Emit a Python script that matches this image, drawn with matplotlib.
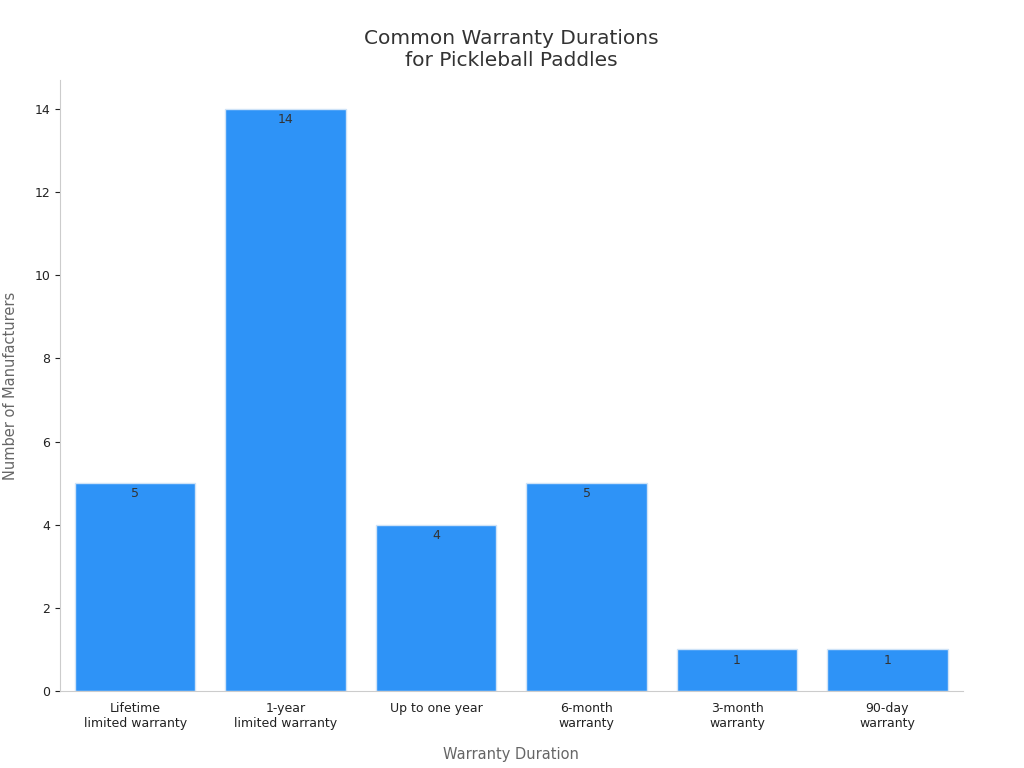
import matplotlib
matplotlib.use("Agg")
from matplotlib import pyplot as plt

# data
categories = ["Lifetime\nlimited warranty", "1-year\nlimited warranty", "Up to one year",
              "6-month\nwarranty", "3-month\nwarranty", "90-day\nwarranty"]
counts = [5, 14, 4, 5, 1, 1]

plt.rcParams['font.family'] = ['DejaVu Sans']

fig = plt.figure(figsize=(10.24, 7.68), dpi=100)
ax = fig.add_axes([0.0586, 0.1003, 0.8815, 0.7955])

x = range(len(categories))
bars = ax.bar(x, counts, width=0.8, color="#2E93F7", edgecolor="#cfe3f7", linewidth=1)
for b, v in zip(bars, counts):
    ax.text(b.get_x() + b.get_width() / 2, v - 0.1, str(v), ha="center", va="top",
            fontsize=9, color="#333333")

ax.set_xlim(-0.5, 5.5)
ax.set_ylim(0, 14.7)
ax.set_xticks(list(x))
ax.set_xticklabels(categories, fontsize=9, color="#222222")
ax.set_yticks(range(0, 15, 2))
ax.tick_params(axis="y", labelsize=9, colors="#222222")
ax.tick_params(axis="x", length=0, pad=8)
for s in ["top", "right"]:
    ax.spines[s].set_visible(False)
for s in ["left", "bottom"]:
    ax.spines[s].set_color("#cccccc")

ax.set_xlabel("Warranty Duration", fontsize=10.5, color="#666666", labelpad=12)
ax.set_ylabel("Number of Manufacturers", fontsize=10.5, color="#666666", labelpad=12)
ax.set_title("Common Warranty Durations\nfor Pickleball Paddles", fontsize=14.5,
             color="#333333", pad=10)

fig.savefig("out.png", dpi=100)
